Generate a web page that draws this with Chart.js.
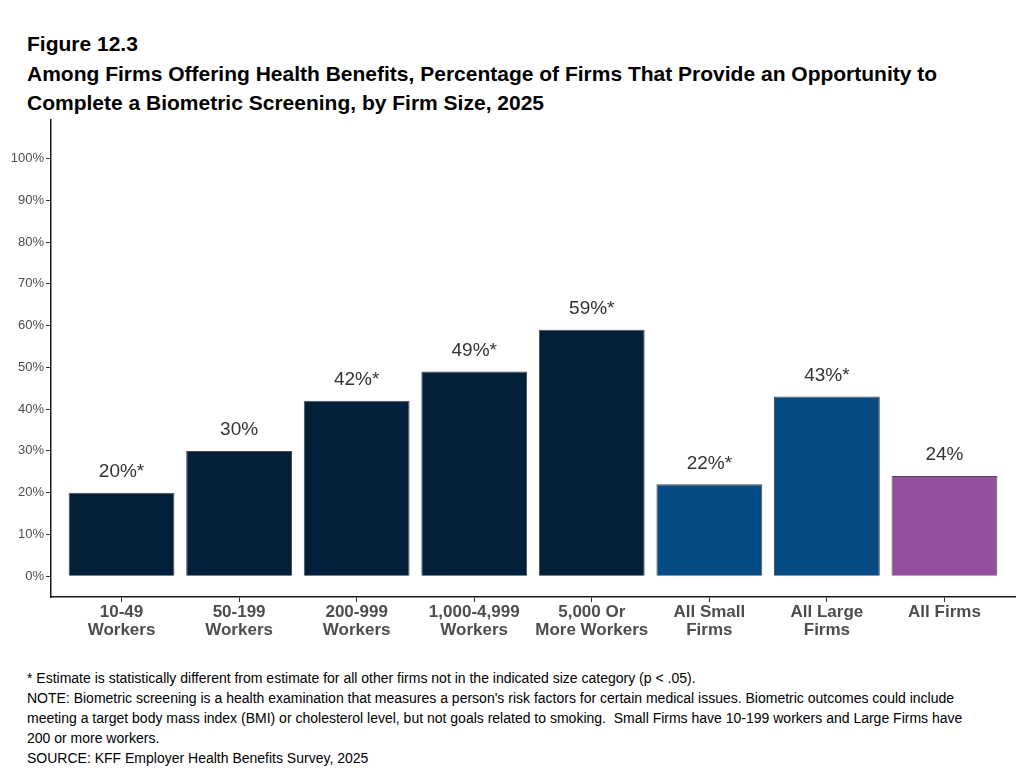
<!DOCTYPE html>
<html>
<head>
<meta charset="utf-8">
<script src="https://cdn.jsdelivr.net/npm/chart.js@4/dist/chart.umd.min.js"></script>
<style>
  body { margin: 0; background: #fff; font-family: "Liberation Sans", Arial, sans-serif; }
  #page { position: relative; width: 1023px; height: 770px; overflow: hidden; }
  .title { position: absolute; left: 27px; font-weight: bold; font-size: 21px; line-height: 24px; color: #000; white-space: nowrap; }
  .note { position: absolute; left: 27px; font-size: 14px; line-height: 16px; color: #000; white-space: pre; }
  #wrap { position: absolute; left: 0; top: 110px; width: 1023px; height: 540px; }
</style>
</head>
<body>
<div id="page">
  <div class="title" style="top:32px">Figure 12.3</div>
  <div class="title" style="top:62px">Among Firms Offering Health Benefits, Percentage of Firms That Provide an Opportunity to</div>
  <div class="title" style="top:91px">Complete a Biometric Screening, by Firm Size, 2025</div>
  <div id="wrap"><canvas id="myChart"></canvas></div>
  <div class="note" style="top:670px">* Estimate is statistically different from estimate for all other firms not in the indicated size category (p &lt; .05).</div>
  <div class="note" style="top:690px">NOTE: Biometric screening is a health examination that measures a person's risk factors for certain medical issues. Biometric outcomes could include</div>
  <div class="note" style="top:710px">meeting a target body mass index (BMI) or cholesterol level, but not goals related to smoking.  Small Firms have 10-199 workers and Large Firms have</div>
  <div class="note" style="top:730px">200 or more workers.</div>
  <div class="note" style="top:750px">SOURCE: KFF Employer Health Benefits Survey, 2025</div>
</div>
<script>
(() => {
  'use strict'

  // Data
  const categories = [
    ['10-49', 'Workers'],
    ['50-199', 'Workers'],
    ['200-999', 'Workers'],
    ['1,000-4,999', 'Workers'],
    ['5,000 Or', 'More Workers'],
    ['All Small', 'Firms'],
    ['All Large', 'Firms'],
    ['All Firms']
  ]
  const values = [20, 30, 42, 49, 59, 22, 43, 24]
  const signif = ['*', '', '*', '*', '*', '*', '*', '']
  const yTicks = [0, 10, 20, 30, 40, 50, 60, 70, 80, 90, 100]

  const barColors = ['#03203a', '#03203a', '#03203a', '#03203a', '#03203a', '#054c85', '#054c85', '#93509c']
  const fontFamily = '"Liberation Sans", Arial, sans-serif'

  // value labels over the bars
  const valueLabels = {
    id: 'valueLabels',
    afterDatasetsDraw(chart) {
      const ctx = chart.ctx
      const meta = chart.getDatasetMeta(0)
      ctx.save()
      ctx.font = '19px ' + fontFamily
      ctx.fillStyle = '#333333'
      ctx.textAlign = 'center'
      ctx.textBaseline = 'middle'
      meta.data.forEach((bar, i) => {
        ctx.fillText(values[i] + '%' + signif[i], bar.x, bar.y - 21)
      })
      ctx.restore()
    }
  }

  const ctx = document.getElementById('myChart')
  new Chart(ctx, {
    type: 'bar',
    data: {
      datasets: [{
        data: values.map((v, i) => ({ x: i, y: v })),
        backgroundColor: barColors,
        borderColor: '#4d4d4d',
        borderWidth: 1,
        categoryPercentage: 1,
        barPercentage: 0.9
      }]
    },
    options: {
      responsive: true,
      maintainAspectRatio: false,
      animation: false,
      layout: { padding: { left: 0, right: 8, top: 8, bottom: 0 } },
      plugins: {
        legend: { display: false },
        tooltip: { enabled: false }
      },
      scales: {
        x: {
          type: 'linear',
          offset: false,
          min: -0.6,
          max: 7.6,
          afterBuildTicks: (scale) => {
            scale.ticks = categories.map((c, i) => ({ value: i }))
          },
          afterFit: (scale) => { scale.height = 53 },
          ticks: {
            autoSkip: false,
            maxRotation: 0,
            padding: 1,
            color: '#4d4d4d',
            font: { family: fontFamily, size: 17, weight: 'bold', lineHeight: '18px' },
            callback: (v) => categories[v]
          },
          grid: { display: true, offset: false, drawOnChartArea: false, drawTicks: true, tickLength: 5, color: '#333333', lineWidth: 1 },
          border: { display: true, color: '#1a1a1a', width: 1.5 }
        },
        y: {
          min: -5,
          max: 109.3,
          afterBuildTicks: (scale) => {
            scale.ticks = yTicks.map(v => ({ value: v }))
          },
          afterFit: (scale) => { scale.width = 51 },
          ticks: {
            padding: 2,
            color: '#4d4d4d',
            font: { family: fontFamily, size: 13 },
            callback: (v) => v + '%'
          },
          grid: { display: true, drawOnChartArea: false, drawTicks: true, tickLength: 5, color: '#333333', lineWidth: 1 },
          border: { display: true, color: '#1a1a1a', width: 1.5 }
        }
      }
    },
    plugins: [valueLabels]
  })
})()
</script>
</body>
</html>
